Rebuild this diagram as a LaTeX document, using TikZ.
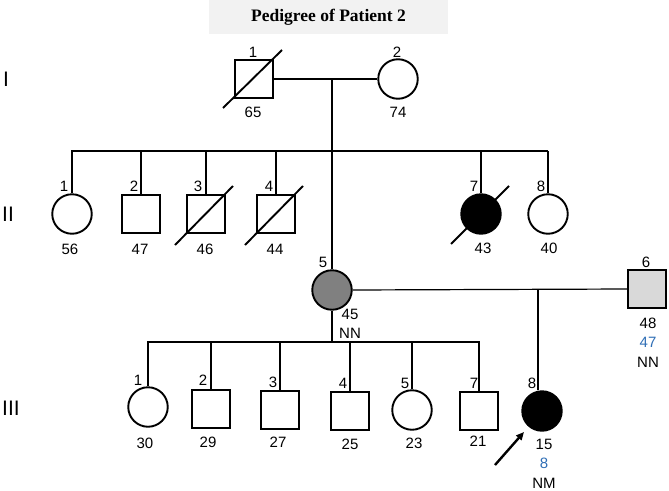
\documentclass[tikz,border=0pt]{standalone}
\usepackage{fontspec}
\setmainfont{Liberation Sans}
\newfontfamily\titlefont{Liberation Serif}
\usetikzlibrary{arrows.meta}
\definecolor{bluetxt}{HTML}{2F6EB5}
\definecolor{titlebg}{HTML}{F2F2F2}
\definecolor{midgray}{HTML}{808080}
\definecolor{lightgray}{HTML}{D9D9D9}
\begin{document}
\begin{tikzpicture}[x=1pt,y=-1pt,
  sq/.style={draw, line width=1.9pt, rectangle, minimum size=38.5pt, inner sep=0pt},
  ci/.style={draw, line width=1.9pt, circle, minimum size=39.5pt, inner sep=0pt},
  lbl/.style={font=\fontsize{15}{15}\selectfont, inner sep=0pt},
  blbl/.style={lbl, text=bluetxt},
  gen/.style={font=\fontsize{21}{21}\selectfont, inner sep=0pt},
  con/.style={line width=1.2pt},
  slash/.style={line width=1.9pt}]
\useasboundingbox (0,0) rectangle (669,490);
% title
\node[fill=titlebg, minimum width=239pt, minimum height=34pt, inner sep=0pt,
      font=\titlefont\bfseries\fontsize{17.5}{17.5}\selectfont] (title) at (328.5,17) {Pedigree of Patient 2};
% generation labels
\node[gen] (gI) at (6,79) {I};
\node[gen] (gII) at (8,214) {II};
\node[gen] (gIII) at (11,408) {III};
% ---------- generation I
\node[sq] (I1) at (254,79) {};
\node[ci] (I2) at (398,79) {};
\draw[slash] ([shift={(-31,29)}]I1.center) -- ([shift={(28,-29)}]I1.center);
\node[lbl] (I1n) at (253,52) {1};
\node[lbl] (I1a) at (253,112) {65};
\node[lbl] (I2n) at (397,52) {2};
\node[lbl] (I2a) at (398,112) {74};
\coordinate (mI) at (332,79);
\coordinate (sII) at (332,151);
\draw[con] (I1.east) -- (I2.west);
\draw[con] (mI) -- (sII);
% ---------- generation II
\node[ci] (II1) at (72,214) {};
\node[sq] (II2) at (141,214) {};
\node[sq] (II3) at (206,214) {};
\node[sq] (II4) at (276,214) {};
\node[ci, fill=black] (II7) at (481,214) {};
\node[ci] (II8) at (548,214) {};
\node[ci, fill=midgray] (II5) at (332,290) {};
\node[sq, fill=lightgray] (II6) at (647,289) {};
\draw[slash] ([shift={(-31,31)}]II3.center) -- ([shift={(27,-28)}]II3.center);
\draw[slash] ([shift={(-31,31)}]II4.center) -- ([shift={(27,-28)}]II4.center);
\draw[slash] ([shift={(-30,30)}]II7.center) -- ([shift={(28,-28)}]II7.center);
\coordinate (sIIL) at (71,151);
\coordinate (sIIR) at (548,151);
\draw[con] (sIIL) -- (sIIR);
\foreach \n in {II1,II2,II3,II4,II7,II8}{
  \draw[con] (\n.north) -- (\n.north |- sII);
}
\draw[con] (sII) -- (II5.north);
\node[lbl] (II1n) at (64,186) {1};
\node[lbl] (II2n) at (134,186) {2};
\node[lbl] (II3n) at (198,186) {3};
\node[lbl] (II4n) at (269,186) {4};
\node[lbl] (II7n) at (474,186) {7};
\node[lbl] (II8n) at (541,186) {8};
\node[lbl] (II1a) at (70,249) {56};
\node[lbl] (II2a) at (140,249) {47};
\node[lbl] (II3a) at (205,249) {46};
\node[lbl] (II4a) at (275,249) {44};
\node[lbl] (II7a) at (483,248) {43};
\node[lbl] (II8a) at (549,248) {40};
\node[lbl] (II5n) at (323,262) {5};
\node[lbl] (II5a) at (350,314) {45};
\node[lbl] (II5g) at (350,333) {NN};
\node[lbl] (II6n) at (646,262) {6};
\node[lbl] (II6a) at (648,323) {48};
\node[blbl] (II6b) at (648,342) {47};
\node[lbl] (II6g) at (648,362) {NN};
% marriage II5 - II6
\draw[con] (II5.east) -- (II6.west);
\coordinate (mII) at (538,290);
% ---------- generation III
\node[ci] (III1) at (148,407) {};
\node[sq] (III2) at (211,409) {};
\node[sq] (III3) at (280,410) {};
\node[sq] (III4) at (350,411) {};
\node[ci] (III5) at (412,410) {};
\node[sq] (III7) at (479,411) {};
\node[ci, fill=black] (III8) at (542,411) {};
\coordinate (sIII) at (332,342);
\coordinate (sIIIL) at (147,342);
\coordinate (sIIIR) at (480,342);
\draw[con] (II5.south) -- (sIII);
\draw[con] (sIIIL) -- (sIIIR);
\foreach \n in {III1,III2,III3,III4,III5,III7}{
  \draw[con] (\n.north) -- (\n.north |- sIII);
}
\draw[con] (mII) -- (mII |- III8.north);
\node[lbl] (III1n) at (138,380) {1};
\node[lbl] (III2n) at (203,380) {2};
\node[lbl] (III3n) at (273,382) {3};
\node[lbl] (III4n) at (343,383) {4};
\node[lbl] (III5n) at (405,383) {5};
\node[lbl] (III7n) at (474,383) {7};
\node[lbl] (III8n) at (532,383) {8};
\node[lbl] (III1a) at (145,443) {30};
\node[lbl] (III2a) at (208,442) {29};
\node[lbl] (III3a) at (278,442) {27};
\node[lbl] (III4a) at (350,444) {25};
\node[lbl] (III5a) at (414,443) {23};
\node[lbl] (III7a) at (478,441) {21};
\node[lbl] (III8a) at (544,444) {15};
\node[blbl] (III8b) at (544,463) {8};
\node[lbl] (III8g) at (544,483) {NM};
% proband arrow
\coordinate (arrT) at (495,465);
\coordinate (arrH) at (524,432);
\draw[line width=2.4pt, -{Triangle[length=8pt,width=7pt]}] (arrT) -- (arrH);
\end{tikzpicture}
\end{document}
